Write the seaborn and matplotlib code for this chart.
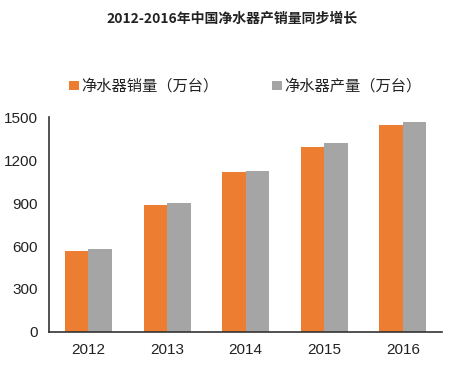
import pandas as pd
import matplotlib.pyplot as plt
import seaborn as sns

sns.set_style("white")
plt.rcParams['font.family'] = ['Noto Sans CJK SC', 'DejaVu Sans']

years = ['2012', '2013', '2014', '2015', '2016']
sales = [567, 886, 1119, 1293, 1445]
production = [577, 898, 1126, 1317, 1468]
series_names = ['净水器销量（万台）', '净水器产量（万台）']
colors = ['#ED7D31', '#A5A5A5']

df = pd.DataFrame({
    'year': years * 2,
    'value': sales + production,
    'series': [series_names[0]] * len(years) + [series_names[1]] * len(years),
})

fig = plt.figure(figsize=(4.64, 3.66), dpi=100)
ax = fig.add_axes([0.106, 0.093, 0.847, 0.587])

sns.barplot(data=df, x='year', y='value', hue='series', palette=colors,
            width=0.6, saturation=1, linewidth=0, ax=ax)

ax.set_ylim(0, 1500)
ax.set_yticks([0, 300, 600, 900, 1200, 1500])
ax.set_xlim(-0.5, 4.5)
ax.set_xlabel('')
ax.set_ylabel('')

for s in ['top', 'right']:
    ax.spines[s].set_visible(False)
for s in ['left', 'bottom']:
    ax.spines[s].set_color('#333333')
    ax.spines[s].set_linewidth(1.2)

ax.tick_params(axis='y', direction='in', length=3, labelsize=11, pad=8,
               colors='#222222')
ax.tick_params(axis='x', length=0, labelsize=11, pad=8, colors='#222222')
# small tick marks between the year groups
ax.set_xticks([0.5, 1.5, 2.5, 3.5, 4.5], minor=True)
ax.tick_params(axis='x', which='minor', direction='in', length=4,
               color='#333333', width=1)

for lab in ax.get_xticklabels() + ax.get_yticklabels():
    lab.set_family(['Liberation Sans', 'DejaVu Sans'])

leg = ax.legend(loc='lower center', bbox_to_anchor=(0.5, 1.04), ncol=2,
                frameon=False, fontsize=11, handlelength=0.6,
                handleheight=0.6, handletextpad=0.2, columnspacing=3.5)
for t in leg.get_texts():
    t.set_color('#222222')

fig.text(0.5, 0.95, '2012-2016年中国净水器产销量同步增长', ha='center',
         va='center', fontsize=10, fontweight='bold', color='#222222')

fig.savefig('out.png', dpi=100)
